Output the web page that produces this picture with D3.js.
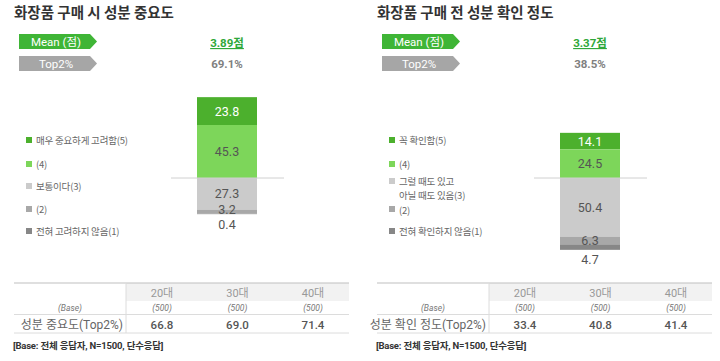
<!doctype html>
<html>
<head>
<meta charset="UTF-8">
<title>성분 중요도</title>
<script src="https://d3js.org/d3.v7.min.js"></script>
<style>
  body { margin: 0; background: #fff; }
  svg text { font-family: Roboto, "Noto Sans CJK KR", sans-serif; }
</style>
</head>
<body>
<script>
// 데이터 ---------------------------------
var titles = ["화장품 구매 시 성분 중요도", "화장품 구매 전 성분 확인 정도"];
var means = ["3.89점", "3.37점"];
var top2 = ["69.1%", "38.5%"];
// (5),(4),(3),(2),(1) 순서
var importance = [23.8, 45.3, 27.3, 3.2, 0.4];
var check = [14.1, 24.5, 50.4, 6.3, 4.7];
var legendImportance = [["매우 중요하게 고려함(5)"], ["(4)"], ["보통이다(3)"], ["(2)"], ["전혀 고려하지 않음(1)"]];
var legendCheck = [["꼭 확인함(5)"], ["(4)"], ["그럴 때도 있고", "아닐 때도 있음(3)"], ["(2)"], ["전혀 확인하지 않음(1)"]];
var ages = ["20대", "30대", "40대"];
var bases = ["(500)", "(500)", "(500)"];
var rowLabels = ["성분 중요도(Top2%)", "성분 확인 정도(Top2%)"];
var importanceByAge = [66.8, 69.0, 71.4];
var checkByAge = [33.4, 40.8, 41.4];
var note = "[Base: 전체 응답자, N=1500, 단수응답]";

var colors = ["#4cb02d", "#7dd65a", "#cbcbcb", "#a8a8a8", "#878787"];
var labelColors = ["#fff", "#555", "#555", "#555", "#555"];

var w = 720, h = 361;
var svg = d3.select("body").append("svg").attr("width", w).attr("height", h);

var panels = [
  { x: 0, values: importance, legend: legendImportance, byAge: importanceByAge },
  { x: 363, values: check, legend: legendCheck, byAge: checkByAge }
];

var y = d3.scaleLinear().domain([0, 100]).range([0, 117]);
var baseY = 178;

panels.forEach(function (p, pi) {
  var g = svg.append("g").attr("transform", "translate(" + p.x + ",0)");

  // 제목
  g.append("text").attr("x", 14).attr("y", 18)
    .attr("font-size", 14.5).attr("font-weight", "bold").attr("fill", "#333")
    .style("font-family", "'Noto Sans CJK KR'")
    .text(titles[pi]);

  // 배지
  var badges = [{ label: "Mean (점)", fill: "#3fb536", y0: 34 }, { label: "Top2%", fill: "#a6a6a6", y0: 56 }];
  badges.forEach(function (b) {
    var x0 = 19, x1 = 97, hh = 15;
    g.append("path")
      .attr("d", "M" + x0 + "," + b.y0 + "H" + (x1 - 7) + "L" + x1 + "," + (b.y0 + hh / 2) +
        "L" + (x1 - 7) + "," + (b.y0 + hh) + "H" + x0 + "Z")
      .attr("fill", b.fill);
    g.append("text").attr("x", 56).attr("y", b.y0 + 11.5)
      .attr("text-anchor", "middle").attr("font-size", 11.5).attr("fill", "#fff")
      .text(b.label);
  });
  g.append("text").attr("x", 227).attr("y", 47).attr("text-anchor", "middle")
    .attr("font-size", 11.5).attr("font-weight", "bold").attr("fill", "#2fa83a")
    .attr("text-decoration", "underline")
    .text(means[pi]);
  g.append("text").attr("x", 227).attr("y", 68).attr("text-anchor", "middle")
    .attr("font-size", 11.5).attr("font-weight", "bold").attr("fill", "#7f7f7f")
    .text(top2[pi]);

  // 누적 막대: (5),(4)는 기준선 위, (3),(2),(1)은 아래
  var up = p.values[0] + p.values[1];
  var segs = [];
  var cum = 0, down = 0;
  p.values.forEach(function (v, i) {
    var top;
    if (i < 2) { top = baseY - y(up - cum); cum += v; }
    else { top = baseY + y(down); down += v; }
    segs.push({ v: v, i: i, top: top, hgt: y(v) });
  });

  var barX = 197, barW = 60;
  g.selectAll("rect.seg").data(segs).enter().append("rect")
    .attr("class", "seg")
    .attr("x", barX).attr("width", barW)
    .attr("y", function (d) { return d.top; })
    .attr("height", function (d) { return d.hgt; })
    .attr("fill", function (d) { return colors[d.i]; });

  g.append("line").attr("x1", 171).attr("x2", 284).attr("y1", baseY).attr("y2", baseY)
    .attr("stroke", "#d0d0d0").attr("stroke-width", 1);

  g.selectAll("text.seg").data(segs).enter().append("text")
    .attr("class", "seg")
    .attr("x", barX + barW / 2)
    .attr("y", function (d) {
      if (d.i === 4) return baseY + y(down) + 14.5;
      if (d.hgt < 6) return d.top + d.hgt / 2 + 2.5;
      return d.top + d.hgt / 2 + 4.5;
    })
    .attr("text-anchor", "middle").attr("font-size", 12.5)
    .attr("fill", function (d) { return labelColors[d.i]; })
    .text(function (d) { return d.v.toFixed(1); });

  // 범례
  var legY = [140, 164, 186, 209, 231];
  var twoLine = p.legend[2].length > 1;
  p.legend.forEach(function (lines, i) {
    var ty = lines.length > 1 ? legY[i] - 1.5 : legY[i] + 3.5;
    if (i === 3 && twoLine) ty += 1;
    var sq = lines.length > 1 ? ty - 3.5 : legY[i];
    g.append("rect").attr("x", 26).attr("y", sq - 3).attr("width", 6).attr("height", 6)
      .attr("fill", colors[i]);
    lines.forEach(function (t, li) {
      g.append("text").attr("x", 36).attr("y", ty + li * 14)
        .attr("font-size", 9.5).attr("fill", "#666")
        .style("font-family", "'Noto Sans CJK KR'")
        .attr("letter-spacing", -0.2)
        .text(t);
    });
  });

  // 표
  var tx0 = 14, tx1 = 349, colX = 126;
  var col = d3.scalePoint().domain(ages).range([162, 313]);
  g.append("rect").attr("x", colX).attr("y", 283).attr("width", tx1 - colX).attr("height", 18)
    .attr("fill", "#f2f2f2");
  g.append("line").attr("x1", tx0).attr("x2", tx1).attr("y1", 283).attr("y2", 283)
    .attr("stroke", "#bfbfbf");
  g.append("line").attr("x1", tx0).attr("x2", tx1).attr("y1", 314.5).attr("y2", 314.5)
    .attr("stroke", "#dcdcdc");
  g.append("line").attr("x1", tx0).attr("x2", tx1).attr("y1", 333).attr("y2", 333)
    .attr("stroke", "#dcdcdc");
  g.append("line").attr("x1", colX).attr("x2", colX).attr("y1", 283).attr("y2", 333)
    .attr("stroke", "#dcdcdc");

  g.selectAll("text.age").data(ages).enter().append("text")
    .attr("class", "age").attr("x", function (d) { return col(d); }).attr("y", 297)
    .attr("text-anchor", "middle").attr("font-size", 11).attr("fill", "#999")
    .text(function (d) { return d; });
  g.append("text").attr("x", 70).attr("y", 311).attr("text-anchor", "middle")
    .attr("font-size", 8.5).attr("font-style", "italic").attr("fill", "#777")
    .text("(Base)");
  g.selectAll("text.base").data(bases).enter().append("text")
    .attr("class", "base").attr("x", function (d, i) { return col(ages[i]); }).attr("y", 311)
    .attr("text-anchor", "middle").attr("font-size", 8.5).attr("font-style", "italic").attr("fill", "#777")
    .text(function (d) { return d; });
  g.append("text").attr("x", 123).attr("y", 329).attr("text-anchor", "end")
    .attr("font-size", 12).attr("fill", "#666")
    .text(rowLabels[pi]);
  g.selectAll("text.val").data(p.byAge).enter().append("text")
    .attr("class", "val").attr("x", function (d, i) { return col(ages[i]); }).attr("y", 329)
    .attr("text-anchor", "middle").attr("font-size", 11.5).attr("font-weight", 500).attr("fill", "#555")
    .text(function (d) { return d.toFixed(1); });

  g.append("text").attr("x", 13).attr("y", 349)
    .attr("font-size", 9.5).attr("font-weight", "bold").attr("fill", "#333")
    .attr("letter-spacing", -0.2)
    .text(note);
});
</script>
</body>
</html>
